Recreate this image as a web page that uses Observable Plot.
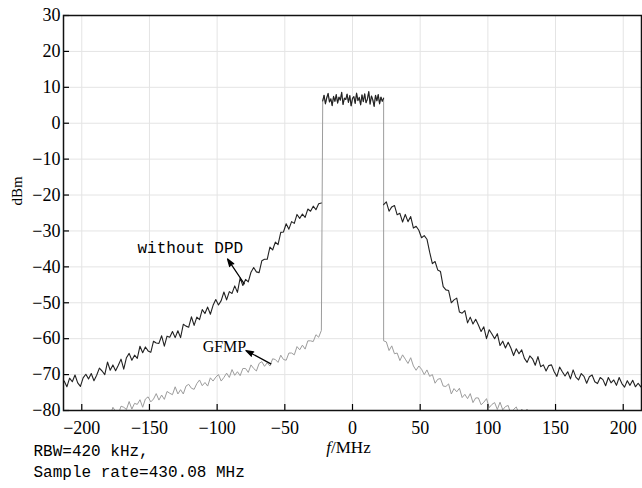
<!DOCTYPE html>
<html>
<head>
<meta charset="utf-8">
<script src="https://cdn.jsdelivr.net/npm/d3@7"></script>
<script src="https://cdn.jsdelivr.net/npm/@observablehq/plot@0.6"></script>
<style>
  html, body { margin: 0; padding: 0; background: #fff; }
  #chart svg { display: block; }
</style>
</head>
<body>
<div id="chart"></div>
<script>
// ---- axis ticks ----
const xTicks = [-200, -150, -100, -50, 0, 50, 100, 150, 200];
const yTicks = [-80, -70, -60, -50, -40, -30, -20, -10, 0, 10, 20, 30];

// ---- frequency grids (MHz): start, step ----
const noDpdLeftStart = -213, noDpdRightStart = 23, sideStep = 2;
const gfmpLeftStart = -181, gfmpRightStart = 23;
const inbandStart = -22, inbandStep = 1;

// ---- without DPD, lower sideband (dBm) ----
const noDpdLeft = [-71.8,-73.4,-71.0,-72.0,-70.1,-72.3,-73.3,-70.9,-69.9,-71.2,
  -69.7,-71.7,-70.2,-68.2,-69.0,-70.0,-66.5,-68.8,-67.3,-68.9,
  -67.4,-65.7,-68.5,-65.3,-64.1,-66.0,-64.6,-65.5,-62.1,-63.9,
  -62.3,-63.4,-63.8,-60.7,-61.2,-61.3,-59.2,-62.1,-59.3,-59.6,
  -58.0,-59.7,-57.8,-59.7,-56.0,-56.5,-56.8,-53.9,-56.3,-54.0,
  -54.7,-51.9,-53.0,-51.2,-53.2,-50.7,-49.1,-50.6,-49.4,-47.0,
  -49.2,-46.9,-47.4,-45.3,-47.1,-43.1,-45.2,-43.5,-44.2,-41.5,
  -40.2,-41.4,-41.6,-38.3,-37.9,-37.9,-34.5,-35.3,-33.1,-33.8,
  -30.4,-30.3,-28.0,-29.5,-27.4,-27.9,-25.4,-26.5,-25.3,-26.2,
  -23.9,-24.5,-23.1,-24.1,-22.4,-22.2];

// ---- without DPD, upper sideband (dBm) ----
const noDpdRight = [-22.7,-21.9,-24.5,-23.3,-22.9,-25.5,-25.1,-27.5,-25.4,-27.4,
  -26.0,-29.2,-28.7,-29.8,-31.9,-31.3,-32.3,-35.9,-39.1,-38.5,
  -40.9,-41.3,-45.5,-46.4,-46.6,-50.0,-49.2,-48.7,-52.6,-52.9,
  -52.2,-55.6,-54.0,-55.9,-54.6,-56.2,-58.0,-56.7,-60.0,-57.5,
  -58.7,-60.0,-58.6,-61.9,-60.7,-62.6,-61.0,-62.6,-64.7,-62.8,
  -64.2,-63.1,-65.5,-66.6,-64.8,-65.6,-67.4,-65.0,-67.8,-67.3,
  -69.0,-67.5,-67.3,-69.2,-70.5,-67.9,-69.2,-70.4,-69.2,-71.2,
  -68.7,-70.7,-71.5,-69.7,-70.5,-72.4,-70.6,-70.1,-72.0,-72.5,
  -70.8,-71.4,-73.1,-70.8,-72.3,-71.5,-73.0,-70.8,-72.5,-73.5,
  -71.7,-73.0,-71.6,-73.4,-72.4,-73.4];

// ---- GFMP, lower sideband (dBm) ----
const gfmpLeft = [-80.2,-81.3,-79.1,-80.3,-81.0,-78.8,-79.1,-79.7,-77.5,-79.6,
  -78.0,-78.3,-77.0,-79.1,-76.8,-76.2,-77.6,-76.8,-75.3,-77.1,
  -75.7,-76.9,-74.7,-75.2,-75.6,-73.4,-75.4,-74.2,-75.4,-73.2,
  -72.7,-73.8,-74.1,-72.5,-71.5,-73.1,-72.2,-73.2,-70.9,-71.8,
  -70.7,-70.0,-71.8,-70.8,-69.6,-70.8,-68.6,-70.2,-69.2,-70.3,
  -68.3,-68.3,-69.4,-67.3,-68.3,-69.0,-66.9,-66.4,-67.7,-66.7,
  -67.6,-65.6,-65.8,-66.6,-64.6,-65.8,-66.0,-64.0,-64.0,-64.5,
  -62.2,-63.1,-61.8,-62.9,-60.6,-60.6,-60.8,-58.9,-59.6,-57.7];

// ---- GFMP, upper sideband (dBm) ----
const gfmpRight = [-60.6,-60.9,-63.3,-62.0,-64.2,-64.0,-66.1,-64.5,-65.7,-66.9,
  -65.3,-67.6,-68.8,-67.6,-68.5,-70.0,-68.7,-70.5,-70.0,-72.4,
  -71.3,-71.1,-73.2,-73.3,-72.6,-75.4,-73.9,-74.8,-73.8,-76.4,
  -75.5,-76.7,-75.3,-77.8,-76.5,-76.5,-78.4,-77.7,-76.7,-79.2,
  -78.3,-77.8,-79.7,-77.7,-79.8,-78.9,-78.6,-81.0,-79.7,-79.0,
  -80.9,-79.6,-80.5,-79.6,-81.6,-80.4,-80.2,-81.7,-81.0,-82.2];

// ---- in-band signal, shared by both (dBm) ----
const inband = [6.2,7.8,5.4,7.1,8.3,5.9,6.8,4.9,7.5,6.1,
  8.0,5.6,7.3,6.4,8.6,5.2,7.0,6.6,8.1,5.8,
  7.7,4.8,6.9,7.4,5.5,8.4,6.3,7.2,5.1,7.9,
  6.0,8.2,5.7,6.7,8.8,5.3,7.6,6.5,4.7,7.8,
  6.2,8.0,5.4,7.3,6.1,7.0];

// ---- annotations ----
const labelText = ["without DPD", "GFMP"];
const labelX = [-119.8, -94.6];
const labelY = [-34.6, -62.2];
const arrowFromX = [-80.0, -60.3];
const arrowFromY = [-44.7, -67.0];
const arrowToX = [-92.3, -78.7];
const arrowToY = [-37.8, -63.3];
const captionLines = ["RBW=420 kHz,", "Sample rate=430.08 MHz"];

// ---- build tables ----
const toPts = (start, step, vals, seg) => vals.map((v, i) => ({f: start + i * step, v, seg}));
const darkPts = [
  ...toPts(noDpdLeftStart, sideStep, noDpdLeft, "L"),
  ...toPts(inbandStart, inbandStep, inband, "M"),
  ...toPts(noDpdRightStart, sideStep, noDpdRight, "R")
];
const grayPts = [
  ...toPts(gfmpLeftStart, sideStep, gfmpLeft, "G"),
  ...toPts(inbandStart, inbandStep, inband, "G"),
  ...toPts(gfmpRightStart, sideStep, gfmpRight, "G")
];
const annots = labelText.map((t, i) => ({t, x: labelX[i], y: labelY[i],
  x1: arrowFromX[i], y1: arrowFromY[i], x2: arrowToX[i], y2: arrowToY[i]}));

const W = 642, H = 488, mL = 63, mR = 1, mT = 15, mB = 78;
const frameW = W - mL - mR, frameH = H - mT - mB;

const chart = Plot.plot({
  width: W, height: H,
  marginLeft: mL, marginRight: mR, marginTop: mT, marginBottom: mB,
  style: {background: "#fff", fontFamily: "'Liberation Serif', serif", fontSize: "18px", color: "#000"},
  x: {domain: [-213.5, 213.5]},
  y: {domain: [-80, 30]},
  marks: [
    Plot.gridX(xTicks, {stroke: "#e4e4e4", strokeOpacity: 1}),
    Plot.gridY(yTicks, {stroke: "#e4e4e4", strokeOpacity: 1}),
    Plot.line(grayPts, {x: "f", y: "v", z: "seg", stroke: "#9c9c9c", strokeWidth: 1, clip: true}),
    Plot.line(darkPts, {x: "f", y: "v", z: "seg", stroke: "#222", strokeWidth: 1.1, clip: true}),
    Plot.tickX(xTicks, {x: d => d, stroke: "#000", strokeWidth: 1.2, insetTop: frameH - 6}),
    Plot.tickY(yTicks, {y: d => d, stroke: "#000", strokeWidth: 1.2, insetRight: frameW - 6}),
    Plot.frame({stroke: "#111", strokeWidth: 1.5}),
    Plot.axisX(xTicks, {tickSize: 0, tickPadding: 10.5, label: null, fontSize: 18}),
    Plot.axisY(yTicks, {tickSize: 0, tickPadding: 3, label: null, fontSize: 18}),
    Plot.arrow(annots, {x1: "x1", y1: "y1", x2: "x2", y2: "y2", stroke: "#000", fill: "#000", strokeWidth: 1.3, headLength: 9, headAngle: 36}),
    Plot.text(annots.slice(0, 1), {x: "x", y: "y", text: "t", fontFamily: "'Liberation Mono', monospace", fontSize: 16, fill: "#000"}),
    Plot.text(annots.slice(1), {x: "x", y: "y", text: "t", fontFamily: "'Liberation Serif', serif", fontSize: 16, fill: "#000"}),
    Plot.text(["dBm"], {frameAnchor: "left", dx: -46.5, dy: -7.5, rotate: -90, fontSize: 15, fill: "#000"}),
    Plot.text(["f/MHz"], {frameAnchor: "bottom", dx: -4, dy: 42, fontSize: 17, fill: "#000"}),
    Plot.text(captionLines.slice(0, 1), {frameAnchor: "bottom-left", textAnchor: "start", dx: -30, dy: 45.4, fontFamily: "'Liberation Mono', monospace", fontSize: 16, fill: "#000"}),
    Plot.text(captionLines.slice(1), {frameAnchor: "bottom-left", textAnchor: "start", dx: -30, dy: 66.4, fontFamily: "'Liberation Mono', monospace", fontSize: 16, fill: "#000"})
  ]
});

d3.select(chart).selectAll("text").filter(function() { return this.textContent === "f/MHz"; })
  .each(function() {
    const t = d3.select(this);
    t.text("");
    t.append("tspan").attr("font-style", "italic").text("f");
    t.append("tspan").text("/MHz");
  });

document.getElementById("chart").appendChild(chart);
</script>
</body>
</html>
